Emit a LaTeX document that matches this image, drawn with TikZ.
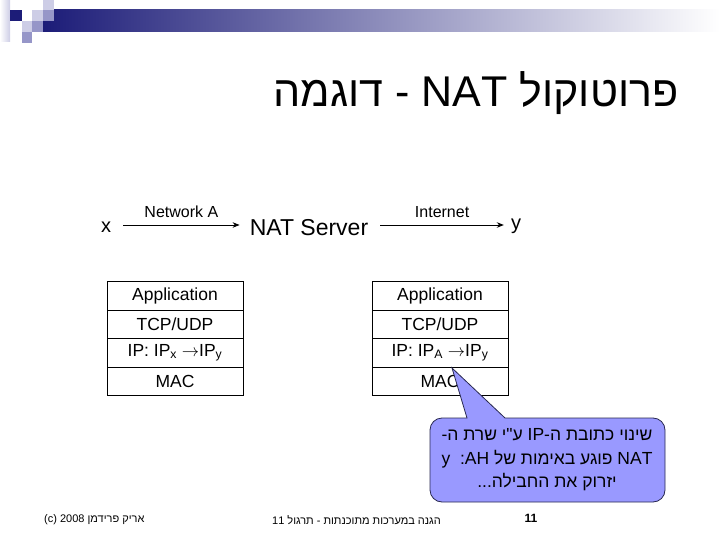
\documentclass[tikz,border=0pt]{standalone}
\usepackage{fontspec}
\setmainfont{Liberation Sans}
\newfontfamily\heb[Script=Hebrew]{Liberation Sans}
\TeXXeTstate=1
\usetikzlibrary{arrows.meta}
\definecolor{navy}{RGB}{28,28,120}
\definecolor{barmid}{RGB}{165,165,195}
\definecolor{sqlight}{RGB}{205,205,230}
\definecolor{sqmed}{RGB}{150,150,200}
\definecolor{callfill}{RGB}{153,153,255}
\definecolor{calldraw}{RGB}{40,40,80}
\begin{document}
\begin{tikzpicture}[x=1pt,y=-1pt,
  lbl/.style={inner sep=0pt, font=\fontsize{16}{18}\selectfont},
  layer/.style={draw, line width=0.8pt, minimum width=136pt, minimum height=28.4pt, inner sep=0pt, font=\fontsize{17.5}{19}\selectfont},
  conn/.style={-{Stealth[length=7pt,width=5.5pt]}, line width=0.9pt},
  foot/.style={inner sep=0pt, font=\fontsize{11}{13}\selectfont}]
\useasboundingbox (0,0) rectangle (720,540);
% top decoration
\shade[left color=white, right color=sqlight] (0,0) rectangle (10,42);
\shade[left color=navy, middle color=barmid, right color=white] (43,10) rectangle (720,32);
\fill[navy] (10,10) rectangle (22,21);
\fill[sqlight] (43,0) rectangle (54,10);
\fill[sqlight] (32,10) rectangle (43,21);
\fill[sqmed] (43,10) rectangle (54,21);
\fill[sqlight] (22,21) rectangle (32,32);
\fill[sqmed] (32,21) rectangle (43,32);
\fill[sqmed] (22,32) rectangle (32,43);
% title
\node[inner sep=0pt, font=\fontsize{43}{48}\selectfont] (title) at (476,93) {\heb\beginR פרוטוקול \beginL NAT\endL{} - דוגמה\endR};
% top row
\node[inner sep=0pt, font=\fontsize{20}{22}\selectfont] (x) at (106,227) {x};
\node[inner sep=0pt, font=\fontsize{23}{26}\selectfont] (nat) at (309,228) {NAT Server};
\node[inner sep=0pt, font=\fontsize{20}{22}\selectfont] (y) at (516,226) {y};
\draw[conn] ([xshift=12pt,yshift=2pt]x.east) -- node[lbl, above=7pt] (na) {Network A} ([xshift=-10pt,yshift=2pt]x.east -| nat.west);
\draw[conn] ([xshift=12pt,yshift=2pt]x.east -| nat.east) -- node[lbl, above=7pt] (inet) {Internet} ([xshift=-7pt,yshift=2pt]x.east -| y.west);
% left stack
\node[layer] (L1) at (175,296) {Application};
\node[layer] (L2) at (175,324.4) {TCP/UDP};
\node[layer] (L3) at (175,352.8) {IP: IP\textsubscript{x} $\rightarrow$IP\textsubscript{y}};
\node[layer] (L4) at (175,381.2) {MAC};
% right stack
\node[layer] (R1) at (440,296) {Application};
\node[layer] (R2) at (440,324.4) {TCP/UDP};
\node[layer] (R3) at (440,352.8) {IP: IP\textsubscript{A} $\rightarrow$IP\textsubscript{y}};
\node[layer] (R4) at (440,381.2) {MAC};
% callout
\coordinate (tip) at (452,368);
\draw[fill=callfill, draw=calldraw, line width=0.8pt]
  (467,418) -- (tip) -- (505,418) [rounded corners=12pt] -- (665,418) -- (665,502) -- (430,502) -- (430,418) [sharp corners] -- cycle;
\node[inner sep=0pt, align=center, font=\fontsize{17.5}{23.5}\selectfont] (note) at (547,460) {%
\heb\beginR שינוי כתובת ה-\beginL IP\endL{} ע"י שרת ה-\endR\\
\heb\beginR\beginL NAT\endL{} פוגע באימות של \beginL AH\endL:\ \ \beginL y\endL\endR\\
\heb\beginR יזרוק את החבילה...\endR};
% footer
\node[foot, anchor=west] (f1) at (44,520) {(c) 2008 {\heb\beginR אריק פרידמן\endR}};
\node[foot, anchor=west] (f2) at (272,520) {\heb\beginR הגנה במערכות מתוכנתות - תרגול \beginL 11\endL\endR};
\node[foot, font=\fontsize{12}{14}\selectfont\bfseries] (f3) at (531,518) {11};
\end{tikzpicture}
\end{document}
